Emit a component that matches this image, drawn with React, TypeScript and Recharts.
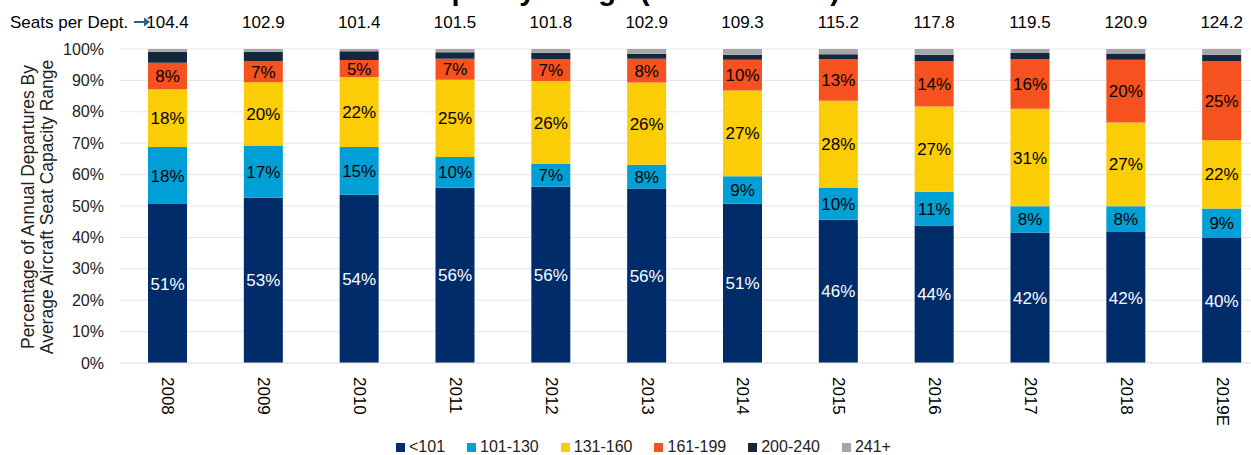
import React from 'react';
import { BarChart, Bar, XAxis, YAxis, CartesianGrid, Legend, LabelList } from 'recharts';

const years = ['2008', '2009', '2010', '2011', '2012', '2013', '2014', '2015', '2016', '2017', '2018', '2019E'];
const seatsPerDept = [104.4, 102.9, 101.4, 101.5, 101.8, 102.9, 109.3, 115.2, 117.8, 119.5, 120.9, 124.2];
const under101 = [50.6, 52.6, 53.6, 55.8, 56.1, 55.6, 50.7, 45.6, 43.8, 41.6, 41.7, 39.8];
const s101to130 = [18.2, 16.7, 15.2, 9.8, 7.3, 7.5, 8.8, 10.3, 10.7, 8.3, 8.2, 9.4];
const s131to160 = [18.4, 20.1, 22.3, 24.6, 26.4, 26.2, 27.3, 27.6, 27.2, 31.1, 26.7, 21.7];
const s161to199 = [8.4, 6.7, 5.4, 6.7, 6.9, 7.6, 9.8, 13.3, 14.4, 15.7, 20.0, 25.3];
const s200to240 = [3.5, 3.0, 2.8, 2.1, 2.1, 1.6, 1.6, 1.5, 2.1, 2.0, 2.0, 2.0];
const s241plus = [0.9, 0.9, 0.7, 1.0, 1.2, 1.5, 1.8, 1.7, 1.8, 1.3, 1.4, 1.8];
const yTicks = [0, 10, 20, 30, 40, 50, 60, 70, 80, 90, 100];

const seriesNames = ['<101', '101-130', '131-160', '161-199', '200-240', '241+'];
const seriesKeys = ['a', 'b', 'c', 'd', 'e', 'f'];
const seriesColors = ['#002D6A', '#00A0D6', '#FBCD06', '#F5521F', '#14273F', '#A6A6A6'];
const labelColors = ['#FFFFFF', '#000000', '#000000', '#000000', null, null];

const data = years.map((y, i) => ({
  year: y,
  seats: seatsPerDept[i],
  a: under101[i],
  b: s101to130[i],
  c: s131to160[i],
  d: s161to199[i],
  e: s200to240[i],
  f: s241plus[i],
}));

const FONT = '"Liberation Sans", Arial, sans-serif';

const XTick = (props: any) => {
  const { x, y, payload } = props;
  return (
    <text
      transform={`translate(${x},${y + 14}) rotate(90)`}
      textAnchor="start"
      dominantBaseline="central"
      fontSize={17}
      fontFamily={FONT}
      fill="#000"
    >
      {payload.value}
    </text>
  );
};

const YLabel = () => (
  <g>
    <text
      transform="translate(28,207) rotate(-90)"
      textAnchor="middle"
      dominantBaseline="central"
      fontSize={17.5}
      fontFamily={FONT}
      fill="#222"
    >
      Percentage of Annual Departures By
    </text>
    <text
      transform="translate(47,207) rotate(-90)"
      textAnchor="middle"
      dominantBaseline="central"
      fontSize={17.5}
      fontFamily={FONT}
      fill="#222"
    >
      Average Aircraft Seat Capacity Range
    </text>
  </g>
);

const SeatsLabel = (props: any) => {
  const { x, width, value } = props;
  return (
    <text
      x={x + width / 2}
      y={22}
      textAnchor="middle"
      dominantBaseline="central"
      fontSize={17}
      fontFamily={FONT}
      fill="#000"
    >
      {value}
    </text>
  );
};

const LegendContent = () => (
  <div
    style={{
      display: 'flex',
      alignItems: 'center',
      height: 24,
      paddingLeft: 396,
      fontFamily: FONT,
      fontSize: 16,
      color: '#222',
    }}
  >
    {seriesNames.map((n, i) => (
      <div key={n} style={{ display: 'flex', alignItems: 'center', marginRight: 22 }}>
        <span style={{ display: 'inline-block', width: 9, height: 9, background: seriesColors[i], marginRight: 4 }} />
        <span>{n}</span>
      </div>
    ))}
  </div>
);

export default function App() {
  return (
    <div style={{ position: 'absolute', left: 0, top: 0, width: 1251, height: 455, background: '#fff' }}>
      <BarChart
        width={1251}
        height={455}
        data={data}
        margin={{ top: 49, right: -19, left: 0, bottom: 0 }}
        barSize={39}
      >
        <text
          x={840}
          y={0}
          textAnchor="end"
          fontSize={29}
          fontWeight="bold"
          fontFamily={FONT}
          fill="#000"
        >
          Domestic Seat Capacity Range (2008 – 2019E)
        </text>
        <text x={10} y={22} dominantBaseline="central" fontSize={17} fontFamily={FONT} fill="#000">
          Seats per Dept.
        </text>
        <path d="M134,22 L146,22" stroke="#2E5F8A" strokeWidth={2} />
        <path d="M144,17.5 L150,22 L144,26.5 Z" fill="#2E5F8A" />
        <CartesianGrid vertical={false} stroke="#E6E6E6" strokeWidth={1} />
        <XAxis
          dataKey="year"
          height={68}
          tickLine={false}
          axisLine={{ stroke: '#E6E6E6' }}
          tickSize={0}
          tickMargin={0}
          tick={<XTick />}
          interval={0}
        />
        <YAxis
          width={120}
          domain={[0, 100]}
          ticks={yTicks}
          tickFormatter={(v: number) => `${v}%`}
          axisLine={false}
          tickLine={false}
          tickSize={0}
          tickMargin={16}
          tick={{ fontSize: 16, fontFamily: FONT, fill: '#222' }}
          label={{ content: <YLabel /> }}
          allowDataOverflow
        />
        <Legend
          verticalAlign="bottom"
          content={<LegendContent />}
          wrapperStyle={{ top: 435, left: 0, width: 1251, height: 24 }}
        />
        {seriesKeys.map((k, i) => (
          <Bar
            key={k}
            dataKey={k}
            name={seriesNames[i]}
            stackId="s"
            fill={seriesColors[i]}
            isAnimationActive={false}
          >
            {labelColors[i] && (
              <LabelList
                dataKey={k}
                position="center"
                formatter={(v: any) => `${Math.round(Number(v))}%`}
                fill={labelColors[i] as string}
                fontSize={17}
                fontFamily={FONT}
              />
            )}
            {k === 'f' && <LabelList dataKey="seats" content={<SeatsLabel />} />}
          </Bar>
        ))}
      </BarChart>
    </div>
  );
}
